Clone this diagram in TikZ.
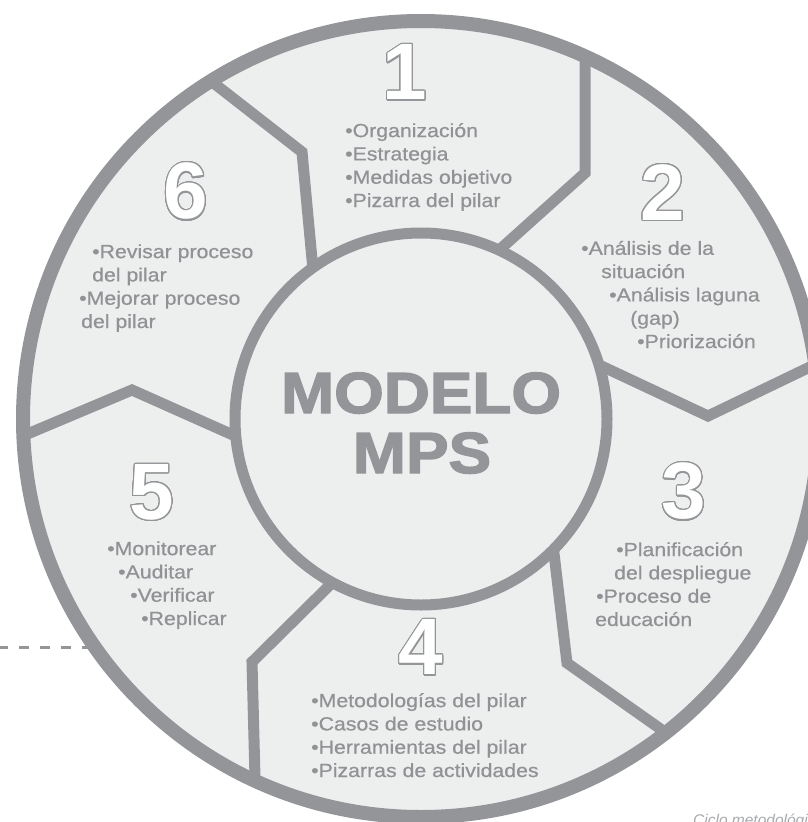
\documentclass[tikz,border=0pt]{standalone}
\usepackage{fontspec}
\setmainfont{Liberation Sans}
\newfontfamily\bodyfont{Liberation Sans}[FakeStretch=1.12,FakeBold=0.6]
\newfontfamily\titlefont{Liberation Sans Bold}[FakeStretch=1.1,FakeBold=2.5]
\newfontfamily\numfont{Liberation Sans Bold}
\usepackage{contour}
\contourlength{1.2pt}
\contournumber{32}
\definecolor{ringgray}{HTML}{939598}
\definecolor{sectfill}{HTML}{EDEEEE}
\definecolor{txtgray}{HTML}{909295}
\definecolor{capgray}{HTML}{A7A9AC}

\begin{document}
\begin{tikzpicture}
  [x=1pt,y=-1pt,
   sep/.style={line width=11pt,ringgray,line join=miter},
   item/.style={anchor=base west,align=left,inner sep=0pt,txtgray,font=\bodyfont\fontsize{19}{23.3}\selectfont},
   num/.style={inner sep=0pt,font=\numfont\fontsize{80}{80}\selectfont},
   title/.style={anchor=base,inner sep=0pt,ringgray,font=\titlefont\fontsize{58}{58}\selectfont}]
\useasboundingbox (0,0) rectangle (807,822);
\coordinate (c) at (421,419);
\fill[sectfill] (c) circle (398pt);

% dividers between the six sectors
\draw[sep] (211,81) -- (302,152) -- (313,270);
\draw[sep] (585,58) -- (585,173) -- (497,252);
\draw[sep] (595,363) -- (708,416) -- (812,366);
\draw[sep] (553,545) -- (567,663) -- (662,730);
\draw[sep] (335,580) -- (252,662) -- (255,778);
\draw[sep] (242,439) -- (132,390) -- (25,435);

\draw[line width=11pt,ringgray,fill=sectfill] (c) circle (186pt);
\draw[line width=14pt,ringgray] (c) circle (398pt);

\coordinate (d0) at (0,647);
\coordinate (d1) at (92,647);
\draw[ringgray,line width=3pt,dash pattern=on 10.5pt off 10.5pt,dash phase=2.5pt] (d0) -- (d1);

\node[title] (m1) at (421,413) {MODELO};
\node[title] (m2) at (422,473) {MPS};

\node[num] (n1) at (405,73) {\color{white}\contour{ringgray}{1}};
\node[num] (n2) at (663,193) {\color{white}\contour{ringgray}{2}};
\node[num] (n3) at (684,492) {\color{white}\contour{ringgray}{3}};
\node[num] (n4) at (421,648) {\color{white}\contour{ringgray}{4}};
\node[num] (n5) at (152,493) {\color{white}\contour{ringgray}{5}};
\node[num] (n6) at (186,192) {\color{white}\contour{ringgray}{6}};

% text blocks, placed at the baseline of their last line
\node[item] (t1) at (345,207) {•Organización\\•Estrategia\\•Medidas objetivo\\•Pizarra del pilar};
\node[item] (t2) at (581,348) {•Análisis de la\\\hspace*{20pt}situación\\\hspace*{28pt}•Análisis laguna\\\hspace*{49pt}(gap)\\\hspace*{56pt}•Priorización};
\node[item] (t3) at (595,626) {\hspace*{21pt}•Planificación\\\hspace*{19pt}del despliegue\\\hspace*{1pt}•Proceso de\\educación};
\node[item] (t4) at (311,777) {•Metodologías del pilar\\•Casos de estudio\\•Herramientas del pilar\\•Pizarras de actividades};
\node[item] (t5) at (107,625) {•Monitorear\\\hspace*{11pt}•Auditar\\\hspace*{23pt}•Verificar\\\hspace*{34pt}•Replicar};
\node[item] (t6) at (79,328) {\hspace*{13pt}•Revisar proceso\\\hspace*{13pt}del pilar\\•Mejorar proceso\\\hspace*{2pt}del pilar};

\node[anchor=base west,inner sep=0pt,capgray,font=\itshape\fontsize{15.5}{15.5}\selectfont] (cap) at (693,825) {Ciclo metodológico};
\end{tikzpicture}
\end{document}
